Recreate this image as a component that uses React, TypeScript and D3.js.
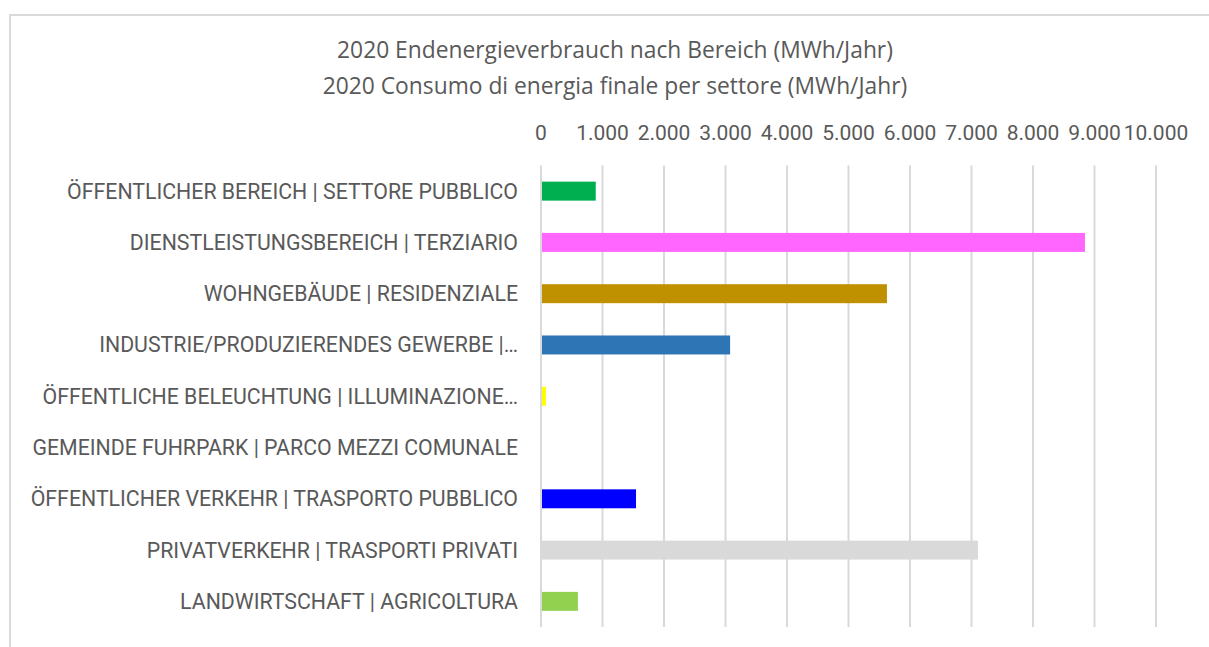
import React from "react";
import * as d3 from "d3";

const titleLines = [
  "2020 Endenergieverbrauch nach Bereich (MWh/Jahr)",
  "2020 Consumo di energia finale per settore (MWh/Jahr)",
];
const categories = [
  "ÖFFENTLICHER BEREICH | SETTORE PUBBLICO",
  "DIENSTLEISTUNGSBEREICH | TERZIARIO",
  "WOHNGEBÄUDE | RESIDENZIALE",
  "INDUSTRIE/PRODUZIERENDES GEWERBE |…",
  "ÖFFENTLICHE BELEUCHTUNG | ILLUMINAZIONE…",
  "GEMEINDE FUHRPARK | PARCO MEZZI COMUNALE",
  "ÖFFENTLICHER VERKEHR | TRASPORTO PUBBLICO",
  "PRIVATVERKEHR | TRASPORTI PRIVATI",
  "LANDWIRTSCHAFT | AGRICOLTURA",
];
const values = [890, 8845, 5625, 3075, 80, 0, 1545, 7105, 600];
const colors = [
  "#00b050",
  "#ff66ff",
  "#bf9000",
  "#2e75b6",
  "#ffff00",
  "#7f7f7f",
  "#0000ff",
  "#d9d9d9",
  "#92d050",
];
const tickValues = [0, 1000, 2000, 3000, 4000, 5000, 6000, 7000, 8000, 9000, 10000];
const tickLabels = ["0", "1.000", "2.000", "3.000", "4.000", "5.000", "6.000", "7.000", "8.000", "9.000", "10.000"];

export default function App() {
  const W = 1209;
  const H = 647;
  const x = d3.scaleLinear().domain([0, 10000]).range([541, 1156]);
  const y = d3.scaleBand<string>().domain(categories).range([165.5, 627]).paddingInner(0.63).paddingOuter(0.315);
  const font = "Roboto, 'Open Sans', sans-serif";
  const textColor = "#595959";
  return (
    <svg width={W} height={H} style={{ position: "absolute", left: 0, top: 0, background: "#fff" }}>
      <rect x={10} y={15} width={1220} height={660} fill="#fff" stroke="#d9d9d9" strokeWidth={2} />
      {titleLines.map((t, i) => (
        <text key={i} x={615} y={58 + i * 36} textAnchor="middle" fontFamily="'Open Sans', sans-serif" fontSize={22.8} fill={textColor}>
          {t}
        </text>
      ))}
      {tickValues.map((v, i) => (
        <g key={v}>
          <line x1={x(v)} x2={x(v)} y1={165.5} y2={627} stroke="#d9d9d9" strokeWidth={2} />
          <text x={x(v)} y={140} textAnchor="middle" fontFamily={font} fontSize={21} fill={textColor}>
            {tickLabels[i]}
          </text>
        </g>
      ))}
      {categories.map((c, i) => (
        <g key={c}>
          {values[i] > 0 && (
            <rect x={x(0) + 1} y={y(c)!} width={Math.max(0, x(values[i]) - x(0) - 1)} height={y.bandwidth()} fill={colors[i]} />
          )}
          <text x={518} y={y(c)! + y.bandwidth() / 2} dy="0.35em" textAnchor="end" fontFamily={font} fontSize={21.3} fill={textColor}>
            {c}
          </text>
        </g>
      ))}
    </svg>
  );
}
